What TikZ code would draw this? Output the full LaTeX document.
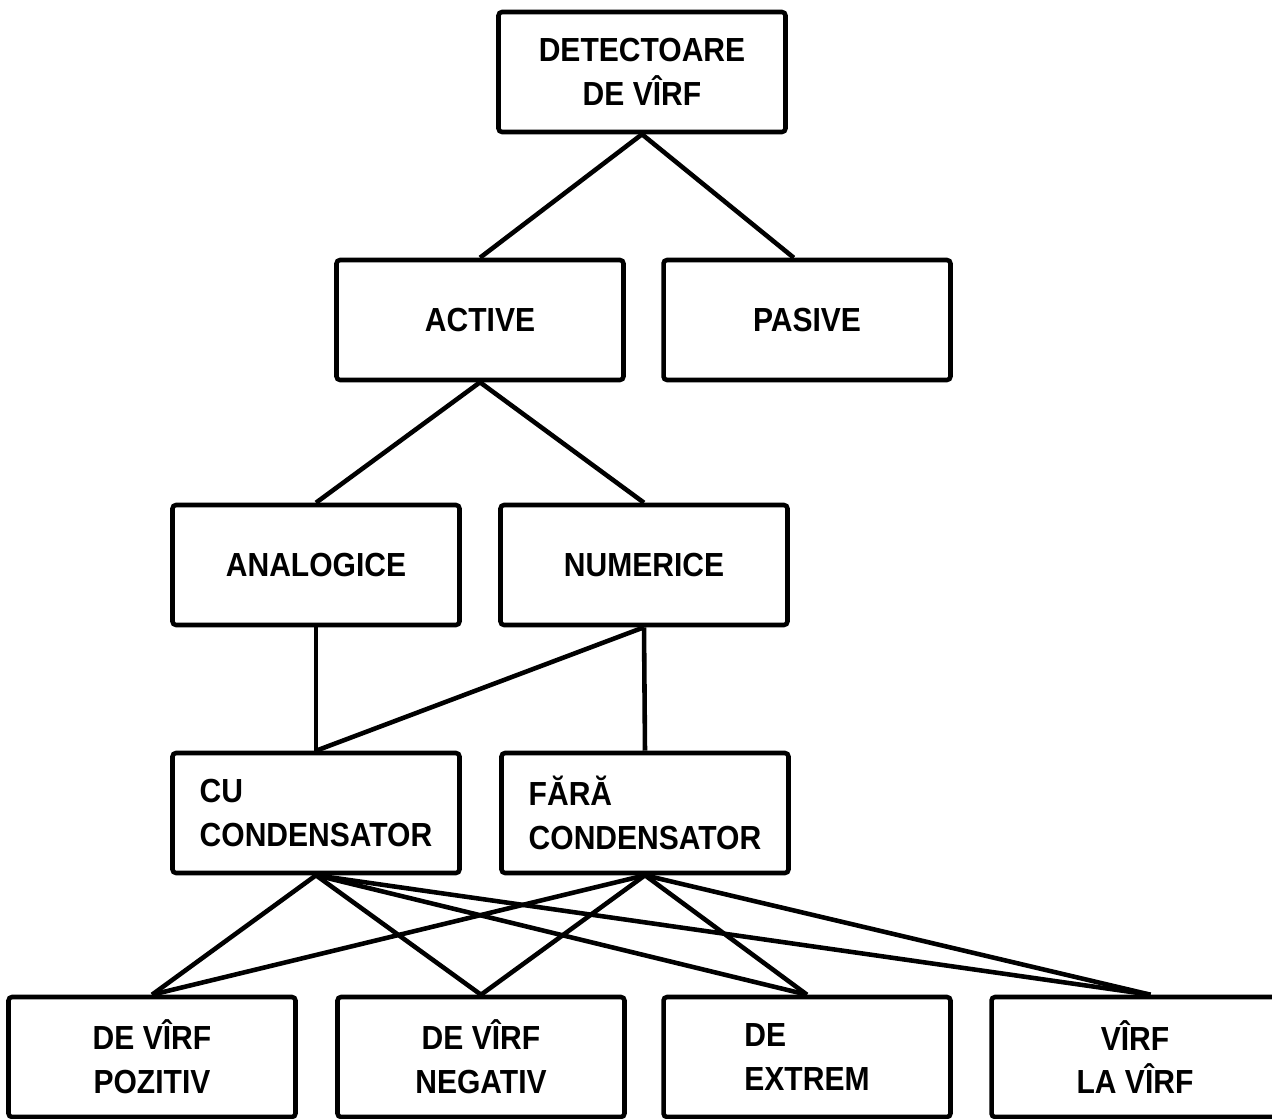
\documentclass[tikz,border=0pt]{standalone}
\usepackage{fontspec}
\setmainfont{Liberation Sans}[FakeStretch=0.9]

\begin{document}
\begin{tikzpicture}[x=0.02cm, y=-0.02cm, line width=2.6pt, box_node/.style={draw, rounded corners=2pt, minimum width=5.74cm, minimum height=2.4cm, inner sep=0pt, align=center, font=\fontsize{19}{25}\selectfont\bfseries}]
				\useasboundingbox (0,0) rectangle (1272,1119);
				\node[box_node](1) at (642,72){DETECTOARE\\DE VÎRF};
				\node[box_node](2) at (480,320){ACTIVE};
				\node[box_node](3) at (807,320){PASIVE};
				\node[box_node](4) at (316,565){ANALOGICE};
				\node[box_node](5) at (644,565){NUMERICE};
				\node[box_node, align=left](6) at (316,813){CU\\CONDENSATOR};
				\node[box_node, align=left](7) at (645,813){FĂRĂ\\CONDENSATOR};
				\node[box_node](8) at (152,1057){DE VÎRF\\POZITIV};
				\node[box_node](9) at (481,1057){DE VÎRF\\NEGATIV};
				\node[box_node, align=left](10) at (807,1057){DE\\EXTREM};
				\node[box_node](11) at (1135,1057){VÎRF\\LA VÎRF};
				\draw (1.south) -- (2.north);
				\draw (1.south) -- (3.102);
				\draw (2.south) -- (4.north);
				\draw (2.south) -- (5.north);
				\draw (4.south) -- (6.north);
				\draw (5.south) -- (6.north);
				\draw (5.south) -- (7.north);
				\foreach \n in {8,9,10}{
					\draw (6.south) -- (\n.north);
					\draw (7.south) -- (\n.north);
				}
				\draw (6.south) -- (11.76);
				\draw (7.south) -- (11.76);
			\end{tikzpicture}
\end{document}
